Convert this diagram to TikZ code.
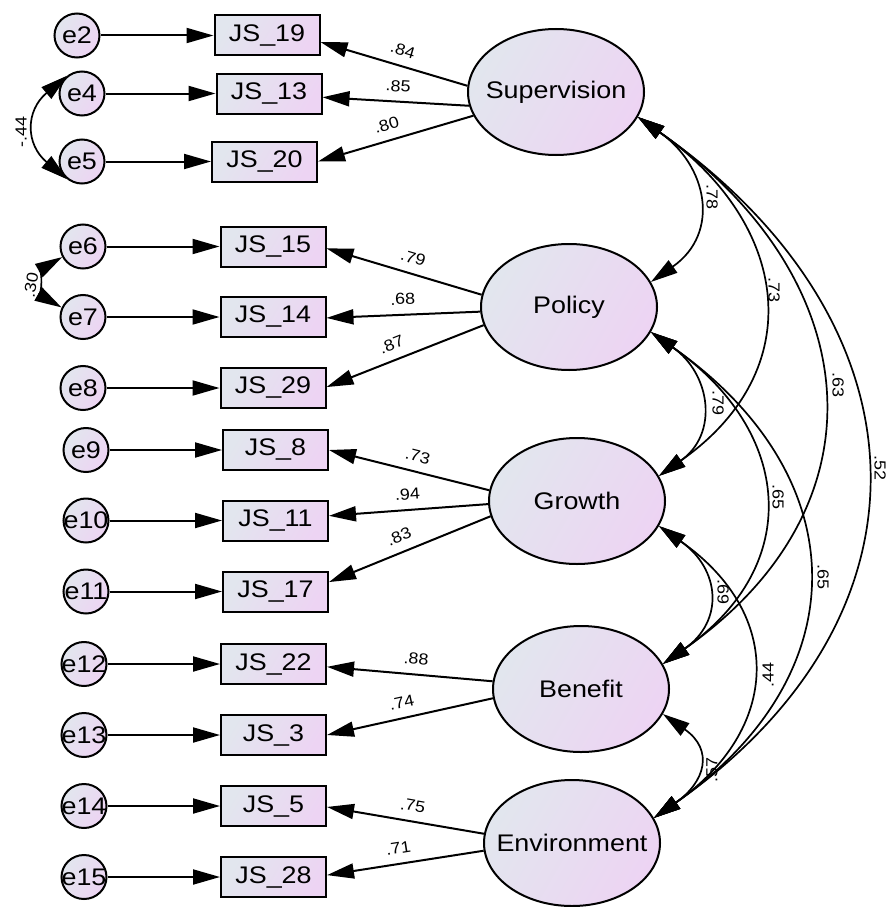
\documentclass[tikz,border=0pt]{standalone}
\usepackage{fontspec}
\setmainfont{Liberation Sans}[FakeStretch=1.12]
\usetikzlibrary{arrows.meta,shapes.geometric}
\definecolor{fillL}{RGB}{226,230,238}
\definecolor{fillR}{RGB}{237,212,243}
\newcommand\ctrtext[1]{\makebox[0pt]{#1}}
\begin{document}
\begin{tikzpicture}[x=1pt,y=1pt,
  base/.style={draw=black, line width=2pt, left color=fillL, right color=fillR, shading angle=60, inner sep=0pt},
  lat/.style={base, ellipse, minimum width=176pt, minimum height=126pt, font=\fontsize{24}{28}\selectfont},
  obs/.style={base, rectangle, minimum width=105pt, minimum height=40pt, font=\fontsize{24}{28}\selectfont},
  err/.style={base, ellipse, minimum width=45pt, minimum height=44pt, font=\fontsize{24}{28}\selectfont},
  tip/.tip={Triangle[length=27pt,width=15pt]},
  arr/.style={line width=2pt, -tip},
  cov/.style={line width=1.7pt, tip-tip, out=-35, in=35, looseness=1.33},
  ecov/.style={line width=1.7pt, tip-tip},
  lab/.style={font=\fontsize{16}{18}\selectfont, inner sep=1pt},
  ld/.style={lab, sloped, above=8pt},
]
\useasboundingbox (0,0) rectangle (894,-907);

% latent variables
\node[lat] (sup) at (556,-92) {\ctrtext{Supervision}};
\node[lat] (pol) at (569,-307) {\ctrtext{Policy}};
\node[lat] (gro) at (577,-501) {\ctrtext{Growth}};
\node[lat] (ben) at (581,-689) {\ctrtext{Benefit}};
\node[lat] (env) at (572,-843) {\ctrtext{Environment}};

% observed variables
\node[obs] (js19) at (267,-35.5) {JS\_19};
\node[obs] (js13) at (269,-93.5) {JS\_13};
\node[obs] (js20) at (264.5,-161.5) {JS\_20};
\node[obs] (js15) at (273,-246.5) {JS\_15};
\node[obs] (js14) at (273,-317) {JS\_14};
\node[obs] (js29) at (273,-388) {JS\_29};
\node[obs] (js8) at (275.5,-450) {JS\_8};
\node[obs] (js11) at (275.5,-520.5) {JS\_11};
\node[obs] (js17) at (275.5,-591.5) {JS\_17};
\node[obs] (js22) at (273.5,-664) {JS\_22};
\node[obs] (js3) at (273.5,-735) {JS\_3};
\node[obs] (js5) at (273.5,-806) {JS\_5};
\node[obs] (js28) at (273.5,-877) {JS\_28};

% error terms
\node[err] (e2) at (77,-35.5) {\ctrtext{e2}};
\node[err] (e4) at (82,-93.5) {\ctrtext{e4}};
\node[err] (e5) at (82,-161.5) {\ctrtext{e5}};
\node[err] (e6) at (83,-246.5) {\ctrtext{e6}};
\node[err] (e7) at (83,-317) {\ctrtext{e7}};
\node[err] (e8) at (83,-388) {\ctrtext{e8}};
\node[err] (e9) at (86,-450) {\ctrtext{e9}};
\node[err] (e10) at (86,-520.5) {\ctrtext{e10}};
\node[err] (e11) at (86,-591.5) {\ctrtext{e11}};
\node[err] (e12) at (84,-664) {\ctrtext{e12}};
\node[err] (e13) at (84,-735) {\ctrtext{e13}};
\node[err] (e14) at (84,-806) {\ctrtext{e14}};
\node[err] (e15) at (84,-877) {\ctrtext{e15}};

% error arrows
\foreach \e/\j in {e2/js19,e4/js13,e5/js20,e6/js15,e7/js14,e8/js29,e9/js8,e10/js11,e11/js17,e12/js22,e13/js3,e14/js5,e15/js28}
  \draw[arr] (\e) -- (\j);

% loadings
\draw[arr] (sup.176) -- node[ld, pos=0.47]{.84} (js19.-7);
\draw[arr] (sup.189) -- node[ld, pos=0.49]{.85} (js13.-4);
\draw[arr] (sup.196) -- node[ld, pos=0.53]{.80} (js20.east);
\draw[arr] (pol.172) -- node[ld, pos=0.47]{.79} (js15.-2);
\draw[arr] (pol.183) -- node[ld, pos=0.5]{.68} (js14.-1);
\draw[arr] (pol.192) -- node[ld, pos=0.55]{.87} (js29.1);
\draw[arr] (gro.173) -- node[ld, pos=0.47]{.73} (js8.east);
\draw[arr] (gro.182) -- node[ld, pos=0.5]{.94} (js11.5);
\draw[arr] (gro.190) -- node[ld, pos=0.53]{.83} (js17.10);
\draw[arr] (ben.175.5) -- node[ld, pos=0.47]{.88} (js22.-3);
\draw[arr] (ben.186.5) -- node[ld, pos=0.53]{.74} (js3.east);
\draw[arr] (env.174) -- node[ld, pos=0.47]{.75} (js5.-1);
\draw[arr] (env.185) -- node[ld, pos=0.53]{.71} (js28.2);

% error covariances
\draw[ecov] (e4.130) to[out=-140, in=140, looseness=1.35] (e5.-130);
\draw[ecov] (e6.207) to[out=-150, in=150, looseness=1.15] (e7.156);
\node[lab, rotate=90] (l45) at (21,-132) {-.44};
\node[lab, rotate=80] (l67) at (31,-285) {.30};

% factor covariances
\draw[cov, looseness=1.32] (sup.-17) to (pol.17);
\draw[cov, looseness=1.32] (sup.-17) to (gro.17);
\draw[cov, looseness=1.30] (sup.-17) to (ben.17);
\draw[cov, looseness=1.30] (sup.-17) to (env.17);
\draw[cov, looseness=1.30] (pol.-17) to (gro.17);
\draw[cov, looseness=1.33] (pol.-17) to (ben.17);
\draw[cov, looseness=1.32] (pol.-17) to (env.17);
\draw[cov, looseness=1.39] (gro.-17) to (ben.17);
\draw[cov, looseness=1.35] (gro.-17) to (env.17);
\draw[cov, looseness=1.54] (ben.-17) to (env.17);

\node[lab, rotate=-90] (c1) at (712,-197) {.78};
\node[lab, rotate=-90] (c2) at (774,-290) {.73};
\node[lab, rotate=-90] (c3) at (838,-385) {.63};
\node[lab, rotate=-90] (c4) at (880,-468) {.52};
\node[lab, rotate=-90] (c5) at (718,-403) {.79};
\node[lab, rotate=-90] (c6) at (778,-497) {.65};
\node[lab, rotate=-90] (c7) at (823,-577) {.65};
\node[lab, rotate=-90] (c8) at (723,-592) {.69};
\node[lab, rotate=90] (c9) at (768,-675) {.44};
\node[lab, rotate=90] (c10) at (712,-770) {.57};
\end{tikzpicture}
\end{document}
